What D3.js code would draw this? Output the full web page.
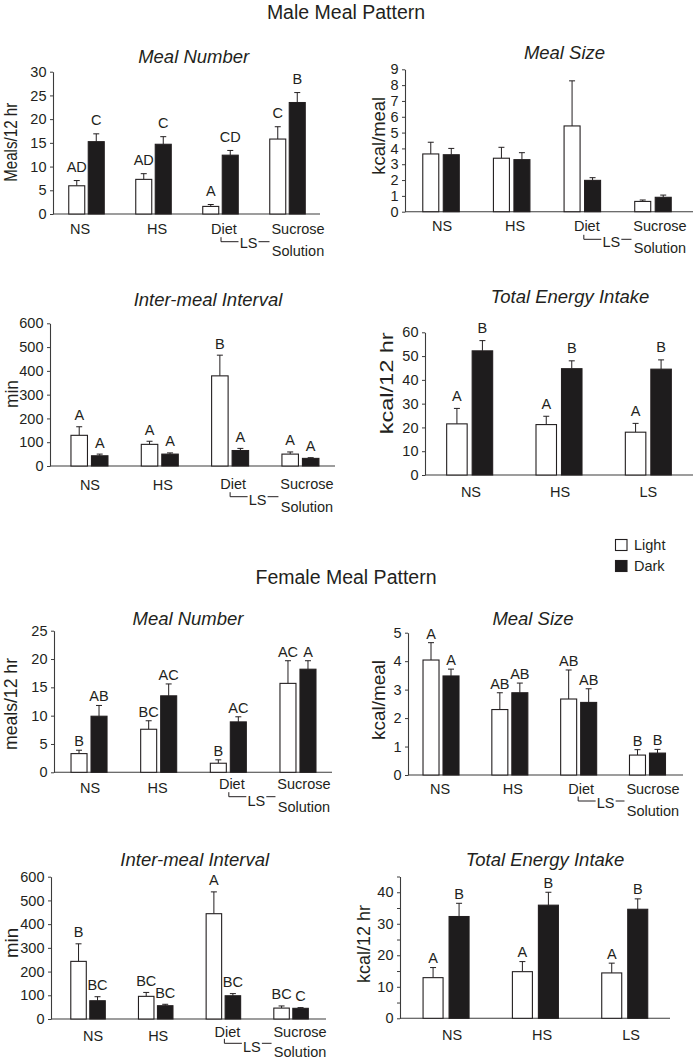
<!DOCTYPE html>
<html><head><meta charset="utf-8">
<script src="https://cdn.jsdelivr.net/npm/d3@7"></script>
<style>
body{margin:0;background:#fff}
text{font-family:"Liberation Sans",Arial,Helvetica,sans-serif;fill:#231f20}
</style>
</head><body>
<svg id="chart" width="693" height="1063"></svg>
<script>
// ---------- DATA ----------
const periods = ["Light", "Dark"];
const mealGroups = ["NS", "HS", "LS Diet", "LS Sucrose Solution"];
const intakeGroups = ["NS", "HS", "LS"];

// Male – Meal Number (meals / 12 hr)
const maleMealNumberLight = [5.95, 7.3, 1.6, 15.8];
const maleMealNumberLightErr = [1.1, 1.2, 0.4, 2.6];
const maleMealNumberDark = [15.25, 14.7, 12.4, 23.5];
const maleMealNumberDarkErr = [1.65, 1.6, 1.0, 2.1];
const maleMealNumberLightLetters = ["AD", "AD", "A", "C"];
const maleMealNumberDarkLetters = ["C", "C", "CD", "B"];

// Male – Meal Size (kcal / meal)
const maleMealSizeLight = [3.65, 3.38, 5.42, 0.65];
const maleMealSizeLightErr = [0.74, 0.69, 2.85, 0.09];
const maleMealSizeDark = [3.6, 3.29, 1.98, 0.91];
const maleMealSizeDarkErr = [0.4, 0.44, 0.17, 0.14];

// Male – Inter-meal Interval (min)
const maleIMILight = [129, 91, 379, 50];
const maleIMILightErr = [36, 13, 87, 9];
const maleIMIDark = [43, 50, 65, 32];
const maleIMIDarkErr = [7, 5, 9, 3];
const maleIMILightLetters = ["A", "A", "B", "A"];
const maleIMIDarkLetters = ["A", "A", "A", "A"];

// Male – Total Energy Intake (kcal / 12 hr)
const maleEnergyLight = [21.5, 21.2, 18.0];
const maleEnergyLightErr = [6.5, 3.5, 3.7];
const maleEnergyDark = [52.2, 44.7, 44.5];
const maleEnergyDarkErr = [4.3, 3.3, 3.9];
const maleEnergyLightLetters = ["A", "A", "A"];
const maleEnergyDarkLetters = ["B", "B", "B"];

// Female – Meal Number
const femaleMealNumberLight = [3.3, 7.6, 1.6, 15.7];
const femaleMealNumberLightErr = [0.6, 1.5, 0.6, 4.0];
const femaleMealNumberDark = [9.9, 13.5, 8.9, 18.2];
const femaleMealNumberDarkErr = [1.9, 2.1, 0.9, 1.5];
const femaleMealNumberLightLetters = ["B", "BC", "B", "AC"];
const femaleMealNumberDarkLetters = ["AB", "AC", "AC", "A"];

// Female – Meal Size
const femaleMealSizeLight = [4.04, 2.3, 2.67, 0.70];
const femaleMealSizeLightErr = [0.61, 0.59, 1.02, 0.19];
const femaleMealSizeDark = [3.48, 2.89, 2.55, 0.77];
const femaleMealSizeDarkErr = [0.24, 0.34, 0.48, 0.13];
const femaleMealSizeLightLetters = ["A", "AB", "AB", "B"];
const femaleMealSizeDarkLetters = ["A", "AB", "AB", "B"];

// Female – Inter-meal Interval
const femaleIMILight = [243, 95.5, 444, 46];
const femaleIMILightErr = [74, 16.5, 92, 9];
const femaleIMIDark = [77, 56, 98, 45];
const femaleIMIDarkErr = [17, 6, 9, 3];
const femaleIMILightLetters = ["B", "BC", "A", "BC"];
const femaleIMIDarkLetters = ["BC", "BC", "BC", "C"];

// Female – Total Energy Intake
const femaleEnergyLight = [12.9, 14.8, 14.4];
const femaleEnergyLightErr = [3.2, 3.2, 3.1];
const femaleEnergyDark = [32.3, 35.9, 34.6];
const femaleEnergyDarkErr = [4.2, 4.1, 3.3];
const femaleEnergyLightLetters = ["A", "A", "A"];
const femaleEnergyDarkLetters = ["B", "B", "B"];

// ---------- DRAWING ----------
const svg = d3.select("#chart");
const INK = "#231f20";
const AXIS = "#3c3c3c";
const DARKFILL = "#1e1c1d";

function drawPanel(c) {
  const g = svg.append("g");
  const y = d3.scaleLinear().domain([0, c.max]).range([c.y0, c.yTop]);
  const x = d3.scaleBand().domain(c.cats).range(c.xRange).paddingInner(0).paddingOuter(0);
  const half = c.barW + c.gap / 2;
  const inner = d3.scaleBand().domain(periods).range([-half, half])
    .paddingInner(c.gap / (c.barW + c.gap)).paddingOuter(0);

  // y axis
  const ticks = d3.range(0, c.max + 1e-9, c.step);
  const ax = g.append("g").attr("transform", `translate(${c.axisX},0)`)
    .call(d3.axisLeft(y).tickValues(ticks).tickSize(3).tickSizeOuter(0).tickPadding(3.5)
      .tickFormat(d => (Math.abs(d / c.labelStep - Math.round(d / c.labelStep)) < 1e-6) ? d : ""));
  ax.select(".domain").attr("stroke", AXIS).attr("stroke-width", 1.1);
  ax.selectAll(".tick line").attr("stroke", AXIS);
  ax.selectAll(".tick text").attr("font-size", "14.5px").attr("fill", INK)
    .style("font-family", '"Liberation Sans",Arial,sans-serif');

  // x axis baseline
  g.append("line").attr("x1", c.axisX).attr("x2", c.axisEnd)
    .attr("y1", y(0)).attr("y2", y(0)).attr("stroke", AXIS).attr("stroke-width", 1.1);

  const series = [
    { p: "Light", v: c.light, e: c.lightErr, l: c.lightLetters, fill: "#fff" },
    { p: "Dark", v: c.dark, e: c.darkErr, l: c.darkLetters, fill: DARKFILL }
  ];

  series.forEach(s => {
    c.cats.forEach((cat, i) => {
      const bx = x(cat) + x.bandwidth() / 2 + inner(s.p);
      const cx = bx + inner.bandwidth() / 2;
      const top = y(s.v[i]);
      const etop = y(s.v[i] + s.e[i]);
      // error bar
      g.append("line").attr("x1", cx).attr("x2", cx).attr("y1", top).attr("y2", etop)
        .attr("stroke", INK).attr("stroke-width", 1);
      g.append("line").attr("x1", cx - 3).attr("x2", cx + 3).attr("y1", etop).attr("y2", etop)
        .attr("stroke", INK).attr("stroke-width", 1);
      // bar
      g.append("rect").attr("x", bx).attr("y", top)
        .attr("width", inner.bandwidth()).attr("height", y(0) - top)
        .attr("fill", s.fill).attr("stroke", INK).attr("stroke-width", 1.1);
      if (s.l) {
        g.append("text").attr("x", cx).attr("y", etop - c.letterGap)
          .attr("text-anchor", "middle").attr("font-size", "14.5px").text(s.l[i]);
      }
    });
  });

  // x category labels
  const ctr = cat => x(cat) + x.bandwidth() / 2;
  if (c.cats.length === 3) {
    c.cats.forEach((cat, i) => {
      g.append("text").attr("x", ctr(cat) + c.dx[i]).attr("y", c.y0 + c.catY)
        .attr("text-anchor", "middle").attr("font-size", "14.5px").text(cat);
    });
  } else {
    ["NS", "HS"].forEach((t, i) => {
      g.append("text").attr("x", ctr(c.cats[i]) + c.dx[i]).attr("y", c.y0 + c.catY)
        .attr("text-anchor", "middle").attr("font-size", "14.5px").text(t);
    });
    const dietX = ctr(c.cats[2]) + c.dx[2];
    const sucX = ctr(c.cats[3]) + c.dx[3];
    const lsX = dietX + 24.5;
    g.append("text").attr("x", dietX).attr("y", c.y0 + c.dietY)
      .attr("text-anchor", "middle").attr("font-size", "14.5px").text("Diet");
    g.append("text").attr("x", sucX).attr("y", c.y0 + c.dietY)
      .attr("text-anchor", "middle").attr("font-size", "14.5px").text("Sucrose");
    g.append("text").attr("x", sucX).attr("y", c.y0 + c.solY)
      .attr("text-anchor", "middle").attr("font-size", "14.5px").text("Solution");
    g.append("text").attr("x", lsX).attr("y", c.y0 + c.lsY)
      .attr("text-anchor", "middle").attr("font-size", "14.5px").text("LS");
    const ly = c.y0 + c.lineY;
    g.append("path")
      .attr("d", `M${dietX - 3},${ly - 4.5}V${ly}H${lsX - 10}M${lsX + 10},${ly}H${sucX - 28.5}`)
      .attr("fill", "none").attr("stroke", INK).attr("stroke-width", 1);
  }

  // title
  g.append("text").attr("x", c.titleX).attr("y", c.titleY).attr("text-anchor", "middle")
    .attr("font-size", "18.5px").attr("font-style", "italic").text(c.title);
  // y label
  g.append("text").attr("transform", `translate(${c.ylX},${c.ylY}) rotate(-90)`)
    .attr("text-anchor", "middle").attr("font-size", "18px")
    .attr("textLength", c.ylLen).attr("lengthAdjust", "spacingAndGlyphs").text(c.ylabel);
}

// main titles
svg.append("text").attr("x", 346).attr("y", 19).attr("text-anchor", "middle")
  .attr("font-size", "19.5px").text("Male Meal Pattern");
svg.append("text").attr("x", 346).attr("y", 584).attr("text-anchor", "middle")
  .attr("font-size", "19.5px").text("Female Meal Pattern");

const panels = [
  { title: "Meal Number", titleX: 193.7, titleY: 62.7, ylabel: "Meals/12 hr", ylX: 16.5, ylY: 142.3, ylLen: 79,
    cats: mealGroups, max: 30, step: 5, labelStep: 5, y0: 214, yTop: 71.7, axisX: 53, axisEnd: 320,
    xRange: [53, 321], barW: 16, gap: 3.5, letterGap: 8.5,
    light: maleMealNumberLight, lightErr: maleMealNumberLightErr, dark: maleMealNumberDark, darkErr: maleMealNumberDarkErr,
    lightLetters: maleMealNumberLightLetters, darkLetters: maleMealNumberDarkLetters,
    dx: [-6.5, 3.5, 3.5, 10.5], catY: 20.3, dietY: 20.3, lineY: 27.7, lsY: 34.3, solY: 42 },
  { title: "Meal Size", titleX: 564.5, titleY: 59, ylabel: "kcal/meal", ylX: 385, ylY: 135.8, ylLen: 78,
    cats: mealGroups, max: 9, step: 1, labelStep: 1, y0: 211.7, yTop: 69.3, axisX: 405, axisEnd: 693,
    xRange: [405.7, 688.3], barW: 16, gap: 4.5, letterGap: 6,
    light: maleMealSizeLight, lightErr: maleMealSizeLightErr, dark: maleMealSizeDark, darkErr: maleMealSizeDarkErr,
    lightLetters: null, darkLetters: null,
    dx: [1, 3.5, 4.5, 7], catY: 19.3, dietY: 19.3, lineY: 27.6, lsY: 35, solY: 41.6 },
  { title: "Inter-meal Interval", titleX: 208, titleY: 306, ylabel: "min", ylX: 18.3, ylY: 394, ylLen: 28,
    cats: mealGroups, max: 600, step: 100, labelStep: 100, y0: 466, yTop: 323.3, axisX: 50, axisEnd: 335,
    xRange: [54.3, 335.6], barW: 16.5, gap: 4, letterGap: 6.5,
    light: maleIMILight, lightErr: maleIMILightErr, dark: maleIMIDark, darkErr: maleIMIDarkErr,
    lightLetters: maleIMILightLetters, darkLetters: maleIMIDarkLetters,
    dx: [0.5, 3, 3, 6.5], catY: 23.5, dietY: 22.5, lineY: 30.7, lsY: 39, solY: 46 },
  { title: "Total Energy Intake", titleX: 570, titleY: 302.7, ylabel: "kcal/12 hr", ylX: 393, ylY: 383.3, ylLen: 102,
    cats: intakeGroups, max: 60, step: 10, labelStep: 10, y0: 475, yTop: 332.3, axisX: 425, axisEnd: 693,
    xRange: [425, 693], barW: 20.5, gap: 5, letterGap: 7.5,
    light: maleEnergyLight, lightErr: maleEnergyLightErr, dark: maleEnergyDark, darkErr: maleEnergyDarkErr,
    lightLetters: maleEnergyLightLetters, darkLetters: maleEnergyDarkLetters,
    dx: [1.3, 1, 0], catY: 21.7 },
  { title: "Meal Number", titleX: 188, titleY: 625, ylabel: "meals/12 hr", ylX: 16.7, ylY: 704, ylLen: 92,
    cats: mealGroups, max: 25, step: 5, labelStep: 5, y0: 772.3, yTop: 630.7, axisX: 54, axisEnd: 332,
    xRange: [54.2, 332.8], barW: 16, gap: 4, letterGap: 4,
    light: femaleMealNumberLight, lightErr: femaleMealNumberLightErr, dark: femaleMealNumberDark, darkErr: femaleMealNumberDarkErr,
    lightLetters: femaleMealNumberLightLetters, darkLetters: femaleMealNumberDarkLetters,
    dx: [1, -1, 3.5, 6], catY: 20.4, dietY: 17, lineY: 24.4, lsY: 33.7, solY: 39.4 },
  { title: "Meal Size", titleX: 533, titleY: 625, ylabel: "kcal/meal", ylX: 385, ylY: 700, ylLen: 80,
    cats: mealGroups, max: 5, step: 1, labelStep: 1, y0: 775, yTop: 632.7, axisX: 408, axisEnd: 683,
    xRange: [406.6, 681.9], barW: 16, gap: 4, letterGap: 4,
    light: femaleMealSizeLight, lightErr: femaleMealSizeLightErr, dark: femaleMealSizeDark, darkErr: femaleMealSizeDarkErr,
    lightLetters: femaleMealSizeLightLetters, darkLetters: femaleMealSizeDarkLetters,
    dx: [-1, 3, 2.5, 5.5], catY: 19.3, dietY: 19.3, lineY: 26, lsY: 33.3, solY: 40.7 },
  { title: "Inter-meal Interval", titleX: 194.7, titleY: 865.7, ylabel: "min", ylX: 18, ylY: 943, ylLen: 30,
    cats: mealGroups, max: 600, step: 100, labelStep: 100, y0: 1019, yTop: 876.7, axisX: 51, axisEnd: 326,
    xRange: [54.2, 324.9], barW: 15.5, gap: 3.5, letterGap: 6.5,
    light: femaleIMILight, lightErr: femaleIMILightErr, dark: femaleIMIDark, darkErr: femaleIMIDarkErr,
    lightLetters: femaleIMILightLetters, darkLetters: femaleIMIDarkLetters,
    dx: [5, 2.5, 4, 9], catY: 22, dietY: 17.7, lineY: 24.3, lsY: 32.7, solY: 38.3 },
  { title: "Total Energy Intake", titleX: 545, titleY: 865.7, ylabel: "kcal/12 hr", ylX: 370, ylY: 944, ylLen: 78,
    cats: intakeGroups, max: 45, step: 5, labelStep: 10, y0: 1018.3, yTop: 876.5, axisX: 400, axisEnd: 670,
    xRange: [401.4, 669.4], barW: 20, gap: 6, letterGap: 4.5,
    light: femaleEnergyLight, lightErr: femaleEnergyLightErr, dark: femaleEnergyDark, darkErr: femaleEnergyDarkErr,
    lightLetters: femaleEnergyLightLetters, darkLetters: femaleEnergyDarkLetters,
    dx: [6, 6.7, 6.3], catY: 21.7 }
];
panels.forEach(drawPanel);

// legend
const legend = svg.append("g").attr("transform", "translate(615,539)");
const legendFills = ["#fff", DARKFILL];
periods.forEach((p, i) => {
  legend.append("rect").attr("x", 0.5).attr("y", i * 21 + 0.5).attr("width", 11.5).attr("height", 11)
    .attr("fill", legendFills[i]).attr("stroke", INK).attr("stroke-width", 1.1);
  legend.append("text").attr("x", 19).attr("y", i * 21 + 11.3).attr("font-size", "14.5px").text(p);
});
</script>
</body></html>
